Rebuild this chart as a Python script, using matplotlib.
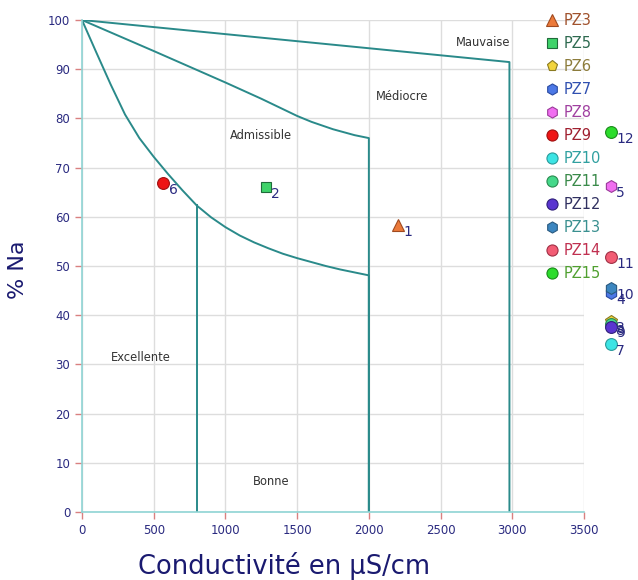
#!/usr/bin/env python3
"""Wilcox-type diagram: % Na versus conductivity for the PZ wells."""

import matplotlib as mpl

mpl.use("Agg")

import matplotlib.pyplot as plt
from matplotlib.lines import Line2D

# class boundaries
upper_x = [0, 2980, 2980]
upper_y = [100, 91.45, 0]
middle_x = [0, 250, 500, 750, 1000, 1250, 1400, 1500, 1600, 1750, 1900, 2000, 2000]
middle_y = [100, 96.85, 93.7, 90.5, 87.3, 84.0, 81.9, 80.5, 79.3, 77.8, 76.6, 76.0, 0]
lower_x = [0, 100, 200, 300, 400, 500, 600, 700, 800, 900, 1000, 1100, 1200, 1300,
           1400, 1500, 1600, 1700, 1800, 1900, 2000, 2000]
lower_y = [100, 93.4, 86.9, 80.8, 76.0, 72.2, 68.7, 65.4, 62.3, 59.9, 57.9, 56.2, 54.8, 53.6,
           52.5, 51.6, 50.8, 50.0, 49.3, 48.7, 48.1, 0]
split_x = [800, 800]
split_y = [62.3, 0]

classes = ["Mauvaise", "Médiocre", "Admissible", "Excellente", "Bonne"]
class_x = [2800, 2230, 1250, 410, 1320]
class_y = [95.5, 84.5, 76.5, 31.4, 6.3]

wells = ["PZ3", "PZ5", "PZ6", "PZ7", "PZ8", "PZ9", "PZ10", "PZ11", "PZ12", "PZ13", "PZ14", "PZ15"]
conductivity = [2200, 1280, 3685, 3685, 3685, 565, 3685, 3685, 3685, 3685, 3685, 3685]
sodium = [58.3, 66.1, 38.8, 44.6, 66.2, 66.9, 34.2, 38.2, 37.7, 45.6, 51.8, 77.2]
numbers = ["1", "2", "3", "4", "5", "6", "7", "8", "9", "10", "11", "12"]

markers = ["^", "s", "p", "h", "h", "o", "o", "o", "o", "h", "o", "o"]
faces = ["#ec7a3a", "#3fd36a", "#f2d43c", "#4c78e6", "#f06ef0", "#ee1515",
         "#3ce4e4", "#45d88a", "#5a35d0", "#3c86c0", "#f25c74", "#2cdc2c"]
edges = ["#a04a20", "#1f6b3a", "#8a7a20", "#2a4aa0", "#9a3a9a", "#a01010",
         "#2a9a9a", "#2a8a50", "#30207a", "#2a5a80", "#a03045", "#1a8a1a"]
text_cols = ["#a0522d", "#2e6a50", "#8c7c3c", "#3050b0", "#a040a0", "#a02030",
             "#30a0a0", "#3a8a4a", "#303060", "#3a9090", "#c03050", "#50a030"]

LINE = "#2a8a8a"
NAVY = "#2a2a80"

fig = plt.figure(figsize=(6.38, 5.80), dpi=100)
ax = fig.add_axes([0.1285, 0.1172, 0.7869, 0.8483])

for xs, ys in ((upper_x, upper_y), (middle_x, middle_y), (lower_x, lower_y), (split_x, split_y)):
    ax.plot(xs, ys, color=LINE, linewidth=1.4, solid_joinstyle="round", zorder=2)

for name, x, y in zip(classes, class_x, class_y):
    ax.text(x, y, name, ha="center", va="center", fontsize=8.3, color="#333333", zorder=3)

for i in range(len(wells)):
    ax.plot(conductivity[i], sodium[i], marker=markers[i], markersize=8.5 if markers[i] != "s" else 7,
            markerfacecolor=faces[i], markeredgecolor=edges[i], markeredgewidth=0.8,
            linestyle="none", clip_on=False, zorder=5)
    ax.annotate(numbers[i], (conductivity[i], sodium[i]), xytext=(4, -5), textcoords="offset points",
                ha="left", va="center", fontsize=10, color=NAVY, annotation_clip=False, zorder=6)

ax.set_xlim(0, 3500)
ax.set_ylim(0, 100)
ax.set_xticks(range(0, 3501, 500))
ax.set_yticks(range(0, 101, 10))
ax.grid(True, color="#dddddd", linewidth=1.0, zorder=0)
ax.set_axisbelow(True)
for side in ("top", "right"):
    ax.spines[side].set_visible(False)
for side in ("left", "bottom"):
    ax.spines[side].set_color("#8fd4d4")
    ax.spines[side].set_linewidth(1.2)
ax.tick_params(axis="both", colors="#d98080", length=5, width=1.0, labelsize=8.5, labelcolor=NAVY)

fig.text(0.028, 0.535, "% Na", rotation=90, ha="center", va="center", fontsize=16, color="#1a1a70")
fig.text(0.445, 0.024, "Conductivité en µS/cm", ha="center", va="center", fontsize=18.5, color="#1a1a70")

handles = [Line2D([], [], marker=markers[i], linestyle="none", markersize=8 if markers[i] != "s" else 6.5,
                  markerfacecolor=faces[i], markeredgecolor=edges[i], markeredgewidth=0.8)
           for i in range(len(wells))]
fig.legend(handles, wells, loc="upper left", bbox_to_anchor=(0.835, 0.995), frameon=False,
           fontsize=10.5, labelcolor=text_cols, handletextpad=0.2, labelspacing=0.55,
           borderpad=0.2, handlelength=1.2)

fig.savefig("out.png", facecolor="white")
plt.close(fig)
